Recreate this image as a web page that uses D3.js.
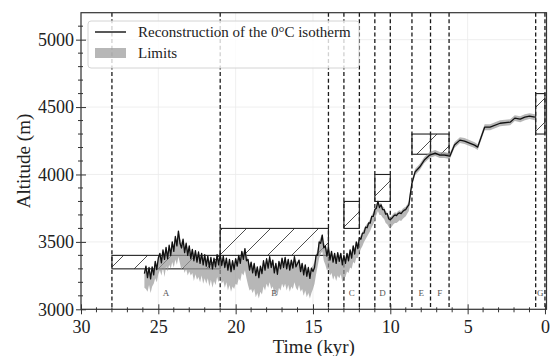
<!DOCTYPE html>
<html>
<head>
<meta charset="utf-8">
<script src="https://cdn.jsdelivr.net/npm/d3@7"></script>
<style>
  body { margin: 0; background: #fff; }
  svg { display: block; font-family: 'Liberation Serif', 'Times New Roman', serif; }
</style>
</head>
<body>
<figure style="margin:0"></figure>
<script>
// reconstruction of the 0°C isotherm (kyr BP, m)
const time = [
  25.9, 25.8, 25.7, 25.6, 25.5, 25.4, 25.3, 25.2, 25.1, 25.0,
  24.9, 24.8, 24.7, 24.6, 24.5, 24.4, 24.3, 24.2, 24.1, 24.0,
  23.9, 23.8, 23.7, 23.6, 23.5, 23.4, 23.3, 23.2, 23.1, 23.0,
  22.9, 22.8, 22.7, 22.6, 22.5, 22.4, 22.3, 22.2, 22.1, 22.0,
  21.9, 21.8, 21.7, 21.6, 21.5, 21.4, 21.3, 21.2, 21.1, 21.0,
  20.9, 20.8, 20.7, 20.6, 20.5, 20.4, 20.3, 20.2, 20.1, 20.0,
  19.9, 19.8, 19.7, 19.6, 19.5, 19.4, 19.3, 19.2, 19.1, 19.0,
  18.9, 18.8, 18.7, 18.6, 18.5, 18.4, 18.3, 18.2, 18.1, 18.0,
  17.9, 17.8, 17.7, 17.6, 17.5, 17.4, 17.3, 17.2, 17.1, 17.0,
  16.9, 16.8, 16.7, 16.6, 16.5, 16.4, 16.3, 16.2, 16.1, 16.0,
  15.9, 15.8, 15.7, 15.6, 15.5, 15.4, 15.3, 15.2, 15.1, 15.0,
  14.9, 14.8, 14.7, 14.6, 14.5, 14.4, 14.3, 14.2, 14.1, 14.0,
  13.9, 13.8, 13.7, 13.6, 13.5, 13.4, 13.3, 13.2, 13.1, 13.0,
  12.9, 12.8, 12.7, 12.6, 12.5, 12.4, 12.3, 12.2, 12.1, 12.0,
  11.9, 11.8, 11.7, 11.6, 11.5, 11.4, 11.3, 11.2, 11.1, 11.0,
  10.9, 10.8, 10.7, 10.6, 10.5, 10.4, 10.3, 10.2, 10.1, 10.0,
  9.9, 9.8, 9.7, 9.6, 9.5, 9.4, 9.3, 9.2, 9.1, 9.0, 8.9, 8.8,
  8.7, 8.6, 8.4, 8.1, 7.8, 7.45, 7.1, 6.8, 6.5, 6.15, 5.85, 5.5,
  5.2, 4.55, 4.35, 3.9, 3.55, 2.9, 2.25, 1.95, 1.6, 1.3, 1.0, 0.65
]

const altitude = [
  3265, 3320, 3235, 3310, 3225, 3315, 3255, 3355, 3295, 3380,
  3415, 3345, 3440, 3370, 3460, 3375, 3475, 3400, 3500, 3430,
  3540, 3470, 3580, 3490, 3455, 3520, 3420, 3490, 3400, 3470,
  3375, 3445, 3360, 3435, 3350, 3425, 3340, 3415, 3330, 3405,
  3320, 3395, 3310, 3385, 3300, 3380, 3315, 3405, 3330, 3410,
  3325, 3395, 3310, 3380, 3290, 3370, 3280, 3360, 3295, 3375,
  3320, 3400, 3340, 3430, 3370, 3450, 3360, 3370, 3290, 3350,
  3270, 3340, 3250, 3315, 3235, 3320, 3265, 3360, 3290, 3375,
  3305, 3390, 3310, 3365, 3270, 3340, 3260, 3355, 3300, 3380,
  3310, 3385, 3300, 3370, 3290, 3365, 3305, 3390, 3315, 3340,
  3365, 3280, 3340, 3255, 3330, 3245, 3310, 3230, 3305, 3280,
  3310, 3400, 3400, 3500, 3490, 3550, 3455, 3470, 3395, 3460,
  3365, 3430, 3350, 3415, 3340, 3420, 3355, 3415, 3330, 3400,
  3340, 3415, 3360, 3440, 3380, 3470, 3410, 3500, 3450, 3530,
  3520, 3565, 3565, 3610, 3605, 3640, 3640, 3690, 3690, 3740,
  3750, 3800, 3755, 3775, 3740, 3740, 3705, 3710, 3670, 3665,
  3675, 3690, 3700, 3695, 3710, 3715, 3710, 3725, 3735, 3740, 3760, 3775,
  3860, 3936, 4018, 4055, 4107, 4144, 4159, 4144, 4144, 4136, 4218, 4255,
  4248, 4218, 4203, 4351, 4351, 4380, 4388, 4418, 4410, 4425, 4433, 4425
]

const lowerLimit = [
  3160, 3150, 3130, 3180, 3120, 3170, 3190, 3230, 3200, 3260,
  3290, 3250, 3310, 3240, 3320, 3280, 3330, 3300, 3350, 3310,
  3370, 3330, 3390, 3340, 3290, 3320, 3270, 3300, 3250, 3280,
  3250, 3270, 3210, 3260, 3220, 3240, 3200, 3250, 3190, 3230,
  3190, 3230, 3170, 3220, 3160, 3210, 3180, 3240, 3200, 3250,
  3190, 3210, 3160, 3200, 3140, 3180, 3130, 3170, 3150, 3190,
  3180, 3230, 3210, 3270, 3250, 3290, 3230, 3180, 3140, 3150,
  3120, 3150, 3090, 3120, 3080, 3130, 3110, 3170, 3140, 3190,
  3160, 3200, 3150, 3170, 3110, 3150, 3100, 3160, 3140, 3190,
  3160, 3190, 3140, 3180, 3130, 3170, 3150, 3200, 3160, 3140,
  3180, 3130, 3150, 3100, 3140, 3090, 3120, 3080, 3120, 3150,
  3190, 3260, 3320, 3380, 3410, 3430, 3360, 3330, 3290, 3300,
  3250, 3270, 3220, 3250, 3210, 3250, 3230, 3260, 3200, 3240,
  3240, 3280, 3270, 3310, 3300, 3350, 3340, 3380, 3380, 3420,
  3450, 3470, 3500, 3520, 3540, 3560, 3580, 3610, 3630, 3660,
  3700, 3730, 3700, 3700, 3680, 3670, 3640, 3630, 3610, 3600,
  3615, 3630, 3640, 3640, 3650, 3660, 3655, 3670, 3680, 3690, 3710, 3730,
  3835, 3910, 3995, 4032, 4085, 4122, 4137, 4122, 4122, 4114, 4196, 4233,
  4226, 4196, 4181, 4329, 4329, 4358, 4366, 4396, 4388, 4403, 4411, 4403
]

const upperLimit = [
  3295, 3330, 3275, 3315, 3265, 3320, 3295, 3360, 3335, 3385,
  3420, 3385, 3440, 3415, 3460, 3420, 3475, 3445, 3500, 3475,
  3540, 3515, 3585, 3535, 3495, 3520, 3465, 3490, 3445, 3470,
  3420, 3450, 3405, 3435, 3395, 3425, 3385, 3415, 3375, 3405,
  3365, 3395, 3355, 3385, 3345, 3380, 3360, 3405, 3375, 3410,
  3370, 3395, 3355, 3380, 3335, 3370, 3325, 3360, 3340, 3375,
  3365, 3405, 3385, 3430, 3415, 3455, 3405, 3375, 3335, 3350,
  3315, 3340, 3295, 3315, 3280, 3320, 3310, 3360, 3335, 3375,
  3350, 3390, 3355, 3365, 3315, 3340, 3305, 3355, 3345, 3380,
  3355, 3385, 3345, 3370, 3335, 3365, 3350, 3390, 3360, 3345,
  3370, 3325, 3345, 3300, 3335, 3290, 3315, 3275, 3310, 3325,
  3355, 3405, 3445, 3505, 3535, 3560, 3495, 3475, 3440, 3460,
  3405, 3430, 3395, 3415, 3385, 3420, 3400, 3415, 3375, 3400,
  3385, 3420, 3405, 3445, 3425, 3475, 3455, 3500, 3495, 3530,
  3550, 3575, 3595, 3620, 3635, 3650, 3670, 3700, 3720, 3755,
  3780, 3810, 3780, 3790, 3765, 3755, 3730, 3720, 3695, 3680,
  3695, 3710, 3720, 3715, 3730, 3735, 3730, 3745, 3755, 3760, 3780, 3795,
  3885, 3960, 4040, 4077, 4129, 4166, 4181, 4166, 4166, 4158, 4240, 4277,
  4270, 4240, 4225, 4373, 4373, 4402, 4410, 4440, 4432, 4447, 4455, 4447
]

// period boundaries (kyr)
const boundaries = [28, 21, 14, 13, 12, 11, 10, 8.6, 7.4, 6.2, 0.6, 0]

// hatched boxes: time span and altitude range
const boxStart = [28, 21, 13, 11, 8.6, 7.4, 0.6]
const boxEnd = [21, 14, 12, 10, 7.4, 6.2, 0]
const boxLow = [3300, 3400, 3600, 3800, 4150, 4150, 4300]
const boxHigh = [3400, 3600, 3800, 4000, 4300, 4300, 4600]

const periodLabels = ['A', 'B', 'C', 'D', 'E', 'F', 'G']
const periodCenters = [24.5, 17.5, 12.5, 10.5, 8.0, 6.8, 0.3]

const xMajor = [30, 25, 20, 15, 10, 5, 0]
const yMajor = [3000, 3500, 4000, 4500, 5000]

const width = 552
const height = 356

const x = d3.scaleLinear().domain([30, -0.1]).range([81, 546.5])
const y = d3.scaleLinear().domain([3000, 5200]).range([309.3, 12.7])

const svg = d3.select('figure').append('svg')
  .attr('width', width)
  .attr('height', height)

const [plotLeft, plotRight] = x.range()
const [plotBottom, plotTop] = y.range()

// grid
svg.append('g')
  .attr('stroke', '#ebebeb')
  .attr('stroke-width', 0.8)
  .call(g => g.selectAll('.gx').data(xMajor).join('line')
    .attr('x1', d => x(d)).attr('x2', d => x(d))
    .attr('y1', plotTop).attr('y2', plotBottom))
  .call(g => g.selectAll('.gy').data(yMajor).join('line')
    .attr('y1', d => y(d)).attr('y2', d => y(d))
    .attr('x1', plotLeft).attr('x2', plotRight))

// hatch pattern
const defs = svg.append('defs')
defs.append('pattern')
  .attr('id', 'hatch')
  .attr('patternUnits', 'userSpaceOnUse')
  .attr('x', 19)
  .attr('width', 24)
  .attr('height', 24)
  .append('path')
  .attr('d', 'M0,24L24,0M-6,6L6,-6M18,30L30,18')
  .attr('stroke', '#222')
  .attr('stroke-width', 0.8)

// period boundaries
svg.append('g')
  .selectAll('line')
  .data(boundaries)
  .join('line')
  .attr('x1', d => x(d)).attr('x2', d => x(d))
  .attr('y1', plotTop).attr('y2', plotBottom)
  .attr('stroke', '#1a1a1a')
  .attr('stroke-width', 1.3)
  .attr('stroke-dasharray', '4,2.6')

// boxes
svg.append('g')
  .selectAll('rect')
  .data(boxStart)
  .join('rect')
  .attr('x', (d, i) => x(d))
  .attr('width', (d, i) => x(boxEnd[i]) - x(d))
  .attr('y', (d, i) => y(boxHigh[i]))
  .attr('height', (d, i) => y(boxLow[i]) - y(boxHigh[i]))
  .attr('fill', 'url(#hatch)')
  .attr('stroke', '#222')
  .attr('stroke-width', 1.1)

// limits band
const idx = d3.range(time.length)
svg.append('path')
  .datum(idx)
  .attr('fill', '#999')
  .attr('fill-opacity', 0.7)
  .attr('d', d3.area()
    .x(i => x(time[i]))
    .y0(i => y(lowerLimit[i]))
    .y1(i => y(upperLimit[i])))

// reconstruction
svg.append('path')
  .datum(idx)
  .attr('fill', 'none')
  .attr('stroke', '#111')
  .attr('stroke-width', 1.3)
  .attr('stroke-linejoin', 'round')
  .attr('d', d3.line()
    .x(i => x(time[i]))
    .y(i => y(altitude[i])))

// period letters
svg.append('g')
  .selectAll('text')
  .data(periodLabels)
  .join('text')
  .attr('x', (d, i) => x(periodCenters[i]))
  .attr('y', y(3095))
  .attr('text-anchor', 'middle')
  .attr('font-size', 9)
  .attr('fill', '#555')
  .text(d => d)

// axes
const xAxis = svg.append('g')
  .attr('transform', `translate(0,${plotBottom})`)
  .call(d3.axisBottom(x).tickValues(xMajor).tickFormat(d3.format('d')).tickSize(5).tickPadding(5.5))
xAxis.selectAll('.tick line').attr('y1', -5)

const yAxis = svg.append('g')
  .attr('transform', `translate(${plotLeft},0)`)
  .call(d3.axisLeft(y).tickValues(yMajor).tickFormat(d3.format('d')).tickSize(5).tickPadding(2))
yAxis.selectAll('.tick line').attr('x1', 5)

const xMinor = d3.range(0, 31).filter(d => d % 5 !== 0)
const yMinor = d3.range(3100, 5200, 100).filter(d => d % 500 !== 0)

svg.append('g')
  .attr('stroke', '#333')
  .call(g => g.selectAll('.mx').data(xMinor).join('line')
    .attr('x1', d => x(d)).attr('x2', d => x(d))
    .attr('y1', plotBottom - 2).attr('y2', plotBottom + 3))
  .call(g => g.selectAll('.my').data(yMinor).join('line')
    .attr('y1', d => y(d)).attr('y2', d => y(d))
    .attr('x1', plotLeft - 3).attr('x2', plotLeft + 2))

svg.selectAll('.domain').remove()
svg.selectAll('.tick line').attr('stroke', '#333')
svg.selectAll('.tick text')
  .attr('font-family', "'Liberation Serif', serif")
  .attr('font-size', 18)
  .attr('fill', '#222')

// frame
svg.append('rect')
  .attr('x', plotLeft).attr('y', plotTop)
  .attr('width', plotRight - plotLeft).attr('height', plotBottom - plotTop)
  .attr('fill', 'none')
  .attr('stroke', '#333')
  .attr('stroke-width', 1.2)

svg.append('text')
  .attr('x', (plotLeft + plotRight) / 2)
  .attr('y', 353)
  .attr('text-anchor', 'middle')
  .attr('font-size', 19)
  .attr('fill', '#222')
  .text('Time (kyr)')

svg.append('text')
  .attr('transform', `translate(30,${(plotTop + plotBottom) / 2}) rotate(-90)`)
  .attr('text-anchor', 'middle')
  .attr('font-size', 19)
  .attr('fill', '#222')
  .text('Altitude (m)')

// legend
const legend = svg.append('g').attr('transform', 'translate(88,21)')
legend.append('rect')
  .attr('width', 271).attr('height', 47).attr('rx', 3)
  .attr('fill', '#fff').attr('fill-opacity', 0.8)
  .attr('stroke', '#d4d4d4')
legend.append('line')
  .attr('x1', 7).attr('x2', 38).attr('y1', 11).attr('y2', 11)
  .attr('stroke', '#111').attr('stroke-width', 1.4)
legend.append('rect')
  .attr('x', 7).attr('y', 27).attr('width', 31).attr('height', 10)
  .attr('fill', '#999').attr('fill-opacity', 0.7)
legend.append('text')
  .attr('x', 50).attr('y', 16)
  .attr('font-size', 15).attr('fill', '#222')
  .text('Reconstruction of the 0°C isotherm')
legend.append('text')
  .attr('x', 50).attr('y', 37)
  .attr('font-size', 15).attr('fill', '#222')
  .text('Limits')
</script>
</body>
</html>
